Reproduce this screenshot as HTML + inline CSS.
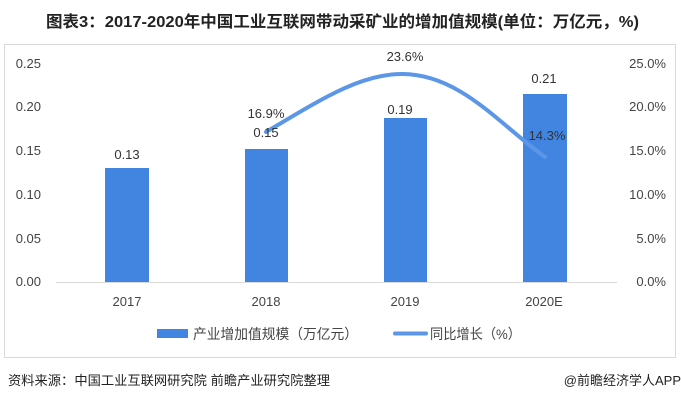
<!DOCTYPE html>
<html><head><meta charset="utf-8"><style>
body{margin:0;background:#fff;width:681px;height:400px;overflow:hidden;font-family:"Liberation Sans","Noto Sans CJK SC",sans-serif;}
</style></head><body>
<svg width="681" height="400" xmlns="http://www.w3.org/2000/svg" font-family="Liberation Sans, Noto Sans CJK SC, sans-serif">
<text x="46" y="27" font-size="16" font-weight="bold" fill="#222" textLength="593" lengthAdjust="spacingAndGlyphs">图表3：2017-2020年中国工业互联网带动采矿业的增加值规模(单位：万亿元，%)</text>
<rect x="4.5" y="44.5" width="671" height="313" fill="none" stroke="#d9d9d9"/>
<g font-size="13" fill="#444">
<text x="41" y="68" text-anchor="end">0.25</text>
<text x="41" y="111" text-anchor="end">0.20</text>
<text x="41" y="155" text-anchor="end">0.15</text>
<text x="41" y="199" text-anchor="end">0.10</text>
<text x="41" y="243" text-anchor="end">0.05</text>
<text x="41" y="286" text-anchor="end">0.00</text>
<text x="666" y="68" text-anchor="end">25.0%</text>
<text x="666" y="111" text-anchor="end">20.0%</text>
<text x="666" y="155" text-anchor="end">15.0%</text>
<text x="666" y="199" text-anchor="end">10.0%</text>
<text x="666" y="243" text-anchor="end">5.0%</text>
<text x="666" y="286" text-anchor="end">0.0%</text>
</g>
<line x1="56" y1="282.5" x2="617" y2="282.5" stroke="#d9d9d9"/>
<g fill="#4185e0">
<rect x="105" y="168" width="44" height="114"/>
<rect x="245" y="149" width="43" height="133"/>
<rect x="384" y="118" width="43" height="164"/>
<rect x="523" y="94" width="44" height="188"/>
</g>
<path d="M266 132 C320 100,360 74,402 74 C460 74,500 125,545 157" fill="none" stroke="#5b97e6" stroke-width="4" stroke-linecap="round"/>
<g font-size="13" fill="#333" text-anchor="middle">
<text x="127" y="159">0.13</text>
<text x="266" y="137">0.15</text>
<text x="400" y="114">0.19</text>
<text x="544" y="83">0.21</text>
<text x="266" y="118">16.9%</text>
<text x="405" y="61">23.6%</text>
<text x="547" y="140">14.3%</text>
<text x="127" y="306" fill="#444">2017</text>
<text x="266" y="306" fill="#444">2018</text>
<text x="405" y="306" fill="#444">2019</text>
<text x="544" y="306" fill="#444">2020E</text>
</g>
<rect x="157" y="329" width="31" height="9" fill="#4185e0"/>
<text x="193" y="339" font-size="14" fill="#444" textLength="165" lengthAdjust="spacingAndGlyphs">产业增加值规模（万亿元）</text>
<line x1="395" y1="333.5" x2="426" y2="333.5" stroke="#5b97e6" stroke-width="4" stroke-linecap="round"/>
<text x="430" y="339" font-size="14" fill="#444" textLength="91" lengthAdjust="spacingAndGlyphs">同比增长（%）</text>
<text x="8" y="385" font-size="13" fill="#222" textLength="322" lengthAdjust="spacingAndGlyphs">资料来源：中国工业互联网研究院 前瞻产业研究院整理</text>
<text x="681" y="385" font-size="13" fill="#222" text-anchor="end">@前瞻经济学人APP</text>
</svg>
</body></html>
